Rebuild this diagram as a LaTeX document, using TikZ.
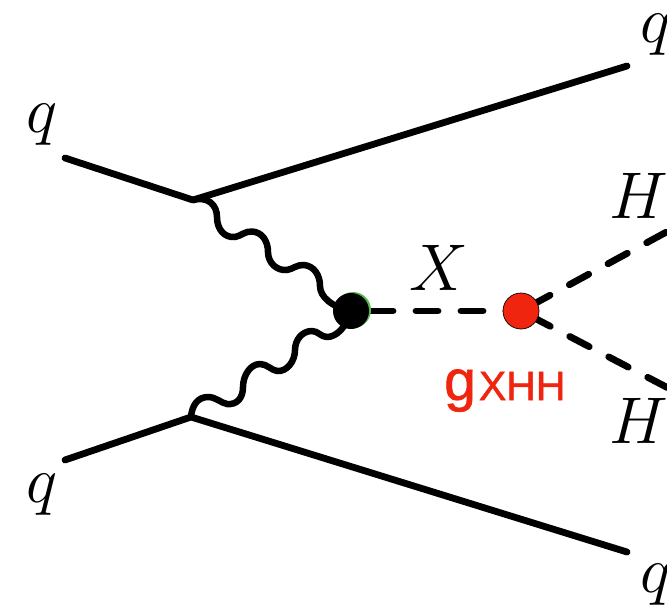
\documentclass[tikz,border=0pt]{standalone}
\usepackage{fontspec}
\setmainfont{Liberation Sans}
\newfontfamily\gfont[FakeBold=1.2]{Liberation Sans}
\usepackage{fix-cm}
\definecolor{vred}{HTML}{F0250F}
\definecolor{vgreen}{HTML}{55B848}
\tikzset{
  fermion/.style={line width=6.8pt,line cap=round,line join=round,black},
  boson/.style={line width=6.5pt,line cap=round,line join=round,black},
  scalarx/.style={line width=6.8pt,line cap=round,black,dash pattern=on 22pt off 23pt,dash phase=25pt},
  scalarh/.style={line width=6.8pt,line cap=round,black,dash pattern=on 22pt off 22pt,dash phase=33pt},
  lab/.style={inner sep=0pt,outer sep=0pt,anchor=base west,font=\fontsize{66}{66}\selectfont},
}
\begin{document}
\begin{tikzpicture}[x=1pt,y=-1pt]
\useasboundingbox (0,0) rectangle (667,605);
\clip (0,0) rectangle (667,605);
% vertices and free ends
\coordinate (qa) at (65,158);
\coordinate (qb) at (65,460);
\coordinate (qc) at (627,66);
\coordinate (qd) at (627,552);
\coordinate (va) at (193,200);
\coordinate (vb) at (191,417);
\coordinate (ha) at (672,229);
\coordinate (hb) at (672,390);
\coordinate (vx) at (351,311);
\coordinate (vh) at (521,311);
% dashed
\draw[scalarx] (vx) -- (vh);
\draw[scalarh] (vh) -- (ha);
\draw[scalarh] (vh) -- (hb);
% fermions
\draw[fermion] (qa) -- (va) -- (qc);
\draw[fermion] (qb) -- (vb) -- (qd);
% wavy bosons
\draw[boson] (va) .. controls (208,196) and (217,205) .. (217,217)
  .. controls (217,230) and (225,238) .. (235,237)
  .. controls (241,236) and (245,231) .. (252,231.5)
  .. controls (262,232) and (268,241) .. (268,252)
  .. controls (268,263) and (277,271) .. (287,270)
  .. controls (293,269) and (297,264.5) .. (304,265)
  .. controls (314,266) and (320,275) .. (320,286)
  .. controls (320,297) and (332,307) .. (vx);
\draw[boson] (vx) .. controls (346,328) and (336,337) .. (327,337)
  .. controls (321,337) and (318,331) .. (312,331)
  .. controls (302,331) and (295,340) .. (295,350)
  .. controls (295,361) and (287,372) .. (277,371)
  .. controls (271,370) and (267,364) .. (260,364)
  .. controls (250,364) and (243,376) .. (243,387)
  .. controls (243,398) and (237,405) .. (227,404)
  .. controls (221,403) and (216,397) .. (208,397)
  .. controls (198,397) and (192,405) .. (vb);
% blobs
\fill[vgreen] (353,310) circle (18pt);
\node[circle,fill=black,minimum size=36pt,inner sep=0pt] (blob) at (vx) {};
\node[circle,fill=vred,draw=black,line width=0.7pt,minimum size=36pt,inner sep=0pt] (red) at (vh) {};
% labels
\node[lab] (l1) at (26,132) {$q$};
\node[lab] (l2) at (640,42) {$q$};
\node[lab] (l3) at (26,502) {$q$};
\node[lab] (l4) at (640,592) {$q$};
\node[lab] (l5) at (609,218) {$H$};
\node[lab] (l6) at (609,443) {$H$};
\node[lab] (l7) at (409,290) {$X$};
\node[inner sep=0pt,anchor=base west,text=vred] (g) at (444,400) {\gfont\fontsize{57}{57}\selectfont g\hspace{3pt}\fontsize{41}{41}\selectfont XHH};
\end{tikzpicture}
\end{document}
